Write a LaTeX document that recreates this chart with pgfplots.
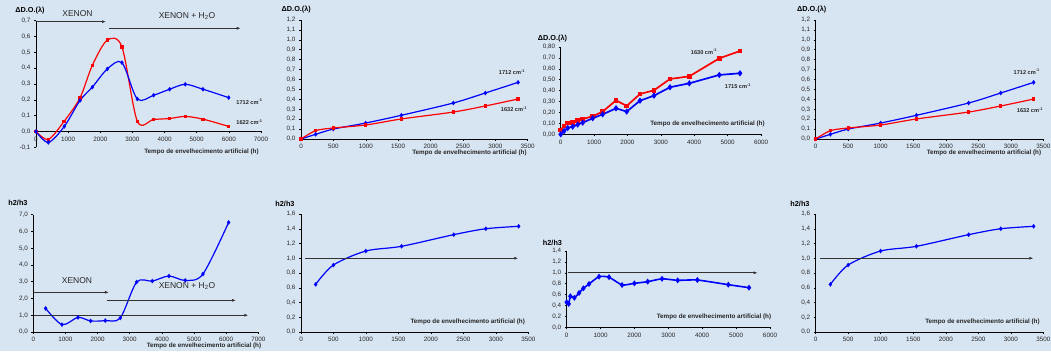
\documentclass[border=0pt]{standalone}
\usepackage{pgfplots}
\pgfplotsset{compat=1.18}
\usepackage{fontspec}
\setmainfont{Liberation Sans}
\usetikzlibrary{arrows.meta}

\definecolor{bgc}{HTML}{D7E5F3}
\definecolor{arr}{HTML}{333333}

\pgfplotsset{
  panel/.style={
    scale only axis, anchor=south west, clip=false, enlargelimits=false,
    axis y line*=left, axis x line*=bottom,
    axis line style={line width=0.6pt, black},
    tick align=outside, major tick length=2pt,
    tick style={line width=0.5pt, black},
    tick label style={font=\fontsize{6.3}{7}\selectfont, text=black!85},
    /pgf/number format/assume math mode=true,
    scaled ticks=false,
    xticklabel style={/pgf/number format/.cd, fixed, precision=0, 1000 sep={}},
    yticklabel style={/pgf/number format/.cd, use comma, fixed, fixed zerofill, precision=1},
    hide obscured x ticks=false, hide obscured y ticks=false,
  },
  bl/.style={color=blue, line width=1.2pt, mark=diamond*, mark size=1.4pt, mark options={solid}},
  rd/.style={color=red, line width=1.2pt, mark=square*, mark size=1.0pt, mark options={solid}},
}

\tikzset{
  refarrow/.style={arr, line width=0.8pt, -{Latex[length=4pt,width=3pt]}},
  ttl/.style={font=\bfseries\fontsize{7.3}{8}\selectfont},
  xlab/.style={font=\bfseries\fontsize{6.3}{7}\selectfont, text=black!85},
  wav/.style={font=\bfseries\fontsize{5.6}{6}\selectfont, text=black!85},
  xen/.style={font=\fontsize{8.5}{9}\selectfont, text=black!85},
}

\begin{document}
\begin{tikzpicture}[x=1pt,y=1pt]
\fill[bgc] (0,0) rectangle (1051,351);
\useasboundingbox (0,0) rectangle (1051,351);

% ---------- top row, panel 1 ----------
\begin{axis}[panel, at={(36pt,203.7pt)}, width=225pt, height=126.6pt,
  xmin=0, xmax=7000, ymin=-0.1, ymax=0.7,
  axis x line*=middle,
  xtick={0,1000,...,7000}, ytick={-0.1,0,0.1,0.2,0.3,0.4,0.5,0.6,0.7}]
\addplot[rd, smooth, tension=0.5] coordinates {
 (0,0) (384,-0.05) (871,0.063) (1369,0.212) (1752,0.418) (2219,0.578)
 (2675,0.534) (3152,0.065) (3660,0.076) (4158,0.082) (4645,0.095)
 (5195,0.078) (5994,0.032)};
\addplot[bl, smooth, tension=0.5] coordinates {
 (0,0) (384,-0.069) (881,0.032) (1369,0.196) (1752,0.28) (2219,0.395)
 (2675,0.435) (3152,0.205) (3660,0.229) (4158,0.267) (4645,0.298)
 (5195,0.267) (5994,0.214)};
\draw[refarrow] (axis cs:22,0.694) -- (axis cs:2178,0.694);
\draw[refarrow] (axis cs:2281,0.652) -- (axis cs:6369,0.652);
\end{axis}

% ---------- top row, panel 2 ----------
\begin{axis}[panel, at={(301pt,212pt)}, width=226.7pt, height=119pt,
  xmin=0, xmax=3500, ymin=0, ymax=1.2,
  xtick={0,500,...,3500}, ytick={0,0.1,...,1.21}]
\addplot[bl, smooth, tension=0.5] coordinates {
 (0,0) (226,0.047) (499,0.10) (998,0.161) (1549,0.239) (2352,0.363)
 (2846,0.464) (3351,0.571)};
\addplot[rd, smooth, tension=0.5] coordinates {
 (0,0) (226,0.084) (499,0.111) (998,0.141) (1549,0.202) (2352,0.272)
 (2846,0.333) (3351,0.403)};
\end{axis}

% ---------- top row, panel 3 ----------
\begin{axis}[panel, at={(560.7pt,216.7pt)}, width=200.3pt, height=87.3pt,
  xmin=0, xmax=6000, ymin=0, ymax=0.8,
  xtick={0,1000,...,6000}, ytick={0,0.1,...,0.81},
  yticklabel style={/pgf/number format/precision=2}]
\addplot[rd, line width=1.7pt, mark size=1.4pt] coordinates {
 (0,0.04) (100,0.076) (210,0.104) (359,0.11) (509,0.125) (659,0.14)
 (958,0.165) (1257,0.208) (1657,0.311) (1976,0.26) (2375,0.369)
 (2794,0.403) (3273,0.507) (3852,0.531) (4750,0.696) (5369,0.763)};
\addplot[bl, line width=1.7pt, mark size=1.8pt] coordinates {
 (0,0) (100,0.03) (210,0.058) (359,0.07) (509,0.089) (659,0.107)
 (958,0.147) (1257,0.183) (1657,0.238) (1976,0.208) (2375,0.308)
 (2794,0.354) (3273,0.431) (3852,0.467) (4750,0.544) (5369,0.559)};
\end{axis}

% ---------- top row, panel 4 ----------
\begin{axis}[panel, at={(815.7pt,212pt)}, width=227.6pt, height=119pt,
  xmin=0, xmax=3500, ymin=0, ymax=1.2,
  xtick={0,500,...,3500}, ytick={0,0.1,...,1.21}]
\addplot[bl, smooth, tension=0.5] coordinates {
 (0,0) (226,0.047) (499,0.10) (998,0.161) (1549,0.239) (2352,0.363)
 (2846,0.464) (3351,0.571)};
\addplot[rd, smooth, tension=0.5] coordinates {
 (0,0) (226,0.084) (499,0.111) (998,0.141) (1549,0.202) (2352,0.272)
 (2846,0.333) (3351,0.403)};
\end{axis}

% ---------- bottom row, panel 5 ----------
\begin{axis}[panel, at={(33.3pt,19pt)}, width=225pt, height=117.3pt,
  xmin=0, xmax=7000, ymin=0, ymax=7,
  xtick={0,1000,...,7000}, ytick={0,1,...,7}]
\addplot[bl, smooth, tension=0.5] coordinates {
 (384,1.41) (892,0.44) (1390,0.87) (1784,0.66) (2240,0.68) (2707,0.84)
 (3215,2.98) (3702,3.04) (4221,3.34) (4729,3.08) (5278,3.46) (6077,6.54)};
\draw[refarrow] (axis cs:31,2.37) -- (axis cs:2355,2.37);
\draw[refarrow] (axis cs:2284,1.89) -- (axis cs:6307,1.89);
\draw[refarrow] (axis cs:22,1.0) -- (axis cs:6690,1.0);
\end{axis}

% ---------- bottom row, panel 6 ----------
\begin{axis}[panel, at={(301pt,19pt)}, width=227.3pt, height=118pt,
  xmin=0, xmax=3500, ymin=0, ymax=1.6,
  xtick={0,500,...,3500}, ytick={0,0.2,...,1.61}]
\addplot[bl, smooth, tension=0.5] coordinates {
 (226,0.646) (499,0.908) (998,1.098) (1549,1.162) (2352,1.32)
 (2846,1.40) (3351,1.433)};
\draw[refarrow] (axis cs:62,1.0) -- (axis cs:3346,1.0);
\end{axis}

% ---------- bottom row, panel 7 ----------
\begin{axis}[panel, at={(566.7pt,23.7pt)}, width=203.3pt, height=76.3pt,
  xmin=0, xmax=6000, ymin=0, ymax=1.4,
  xtick={0,1000,...,6000}, ytick={0,0.2,...,1.41}]
\addplot[bl, line width=1.6pt, mark size=1.7pt, smooth, tension=0.3] coordinates {
 (0,0.46) (59,0.43) (108,0.57) (226,0.54) (364,0.63) (492,0.715)
 (659,0.795) (954,0.93) (1249,0.92) (1633,0.776) (1997,0.807)
 (2390,0.837) (2813,0.89) (3275,0.862) (3856,0.868) (4770,0.782)
 (5380,0.727)};
\draw[refarrow] (axis cs:30,1.0) -- (axis cs:5636,1.0);
\end{axis}

% ---------- bottom row, panel 8 ----------
\begin{axis}[panel, at={(815.7pt,19pt)}, width=227.6pt, height=118pt,
  xmin=0, xmax=3500, ymin=0, ymax=1.6,
  xtick={0,500,...,3500}, ytick={0,0.2,...,1.61}]
\addplot[bl, smooth, tension=0.5] coordinates {
 (226,0.646) (499,0.908) (998,1.098) (1549,1.162) (2352,1.32)
 (2846,1.40) (3351,1.433)};
\draw[refarrow] (axis cs:67,1.0) -- (axis cs:3347,1.0);
\end{axis}

% ---------- titles and labels ----------
\node[ttl] at (30,340.3) {ΔD.O.(λ)};
\node[ttl] at (296.3,341) {ΔD.O.(λ)};
\node[ttl] at (552.5,312) {ΔD.O.(λ)};
\node[ttl] at (811.7,341) {ΔD.O.(λ)};
\node[ttl] at (18,148) {h2/h3};
\node[ttl] at (285,147) {h2/h3};
\node[ttl] at (552.5,107.7) {h2/h3};
\node[ttl] at (800,147) {h2/h3};

\node[xlab] at (201.5,198.7) {Tempo de envelhecimento artificial (h)};
\node[xlab] at (469.5,197.7) {Tempo de envelhecimento artificial (h)};
\node[xlab] at (707.5,227) {Tempo de envelhecimento artificial (h)};
\node[xlab] at (984,197.7) {Tempo de envelhecimento artificial (h)};
\node[xlab] at (204,5.3) {Tempo de envelhecimento artificial (h)};
\node[xlab] at (467.7,28.7) {Tempo de envelhecimento artificial (h)};
\node[xlab] at (714,33.7) {Tempo de envelhecimento artificial (h)};
\node[xlab] at (982.5,29.3) {Tempo de envelhecimento artificial (h)};

\node[wav] at (249.5,249.3) {1712 cm\textsuperscript{-1}};
\node[wav] at (249.5,228.7) {1622 cm\textsuperscript{-1}};
\node[wav] at (512,278.7) {1712 cm\textsuperscript{-1}};
\node[wav] at (514,242) {1632 cm\textsuperscript{-1}};
\node[wav] at (704,299.3) {1630 cm\textsuperscript{-1}};
\node[wav] at (738,265) {1715 cm\textsuperscript{-1}};
\node[wav] at (1026.7,279.3) {1712 cm\textsuperscript{-1}};
\node[wav] at (1030,241) {1632 cm\textsuperscript{-1}};

\node[xen] at (77.5,337.7) {XENON};
\node[xen] at (187,335) {XENON + H\textsubscript{2}O};
\node[xen] at (77,70) {XENON};
\node[xen] at (187,65) {XENON + H\textsubscript{2}O};
\end{tikzpicture}
\end{document}
